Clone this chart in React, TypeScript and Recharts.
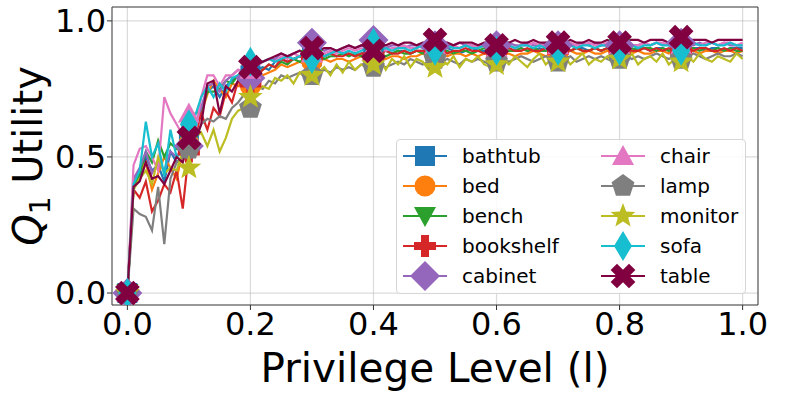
import React from 'react';
import {
  LineChart, Line, XAxis, YAxis, CartesianGrid, Legend, ReferenceArea,
} from 'recharts';

// privilege level, in hundredths
const LEVELS = [
  0, 1, 2, 3, 4, 5, 6, 7, 8, 9, 10,
  11, 12, 13, 14, 15, 16, 17, 18, 19, 20,
  21, 22, 23, 24, 25, 26, 27, 28, 29, 30,
  31, 32, 33, 34, 35, 36, 37, 38, 39, 40,
  41, 42, 43, 44, 45, 46, 47, 48, 49, 50,
  51, 52, 53, 54, 55, 56, 57, 58, 59, 60,
  61, 62, 63, 64, 65, 66, 67, 68, 69, 70,
  71, 72, 73, 74, 75, 76, 77, 78, 79, 80,
  81, 82, 83, 84, 85, 86, 87, 88, 89, 90,
  91, 92, 93, 94, 95, 96, 97, 98, 99, 100,
];

// Q1 utility per class, in percent
const bathtub = [0,
  40, 43, 50, 45, 47, 41, 52, 48, 50, 56,
  60, 68, 74, 76, 72, 76, 78, 80, 79, 80,
  82, 83, 82, 85, 86, 85, 86, 87, 86, 87,
  88, 87, 88, 87, 88, 88, 87, 88, 89, 88,
  88, 89, 88, 89, 89, 88, 89, 89, 90, 89,
  89, 90, 89, 88, 89, 90, 89, 89, 90, 89,
  89, 90, 89, 90, 89, 89, 90, 89, 90, 89,
  90, 89, 90, 90, 89, 90, 89, 90, 90, 89,
  90, 89, 90, 90, 89, 90, 90, 89, 90, 90,
  89, 90, 90, 89, 90, 90, 89, 90, 90, 90];
const bed = [0,
  42, 45, 48, 38, 44, 50, 46, 42, 52, 55,
  62, 66, 73, 78, 75, 72, 77, 76, 78, 76,
  79, 80, 81, 82, 84, 83, 84, 85, 84, 85,
  85, 86, 85, 86, 86, 85, 86, 87, 86, 86,
  87, 86, 87, 87, 86, 87, 87, 88, 87, 87,
  88, 87, 88, 88, 87, 88, 87, 88, 88, 87,
  88, 88, 87, 88, 88, 89, 88, 87, 88, 88,
  88, 89, 88, 88, 89, 88, 88, 89, 88, 88,
  89, 88, 89, 88, 88, 89, 89, 88, 89, 88,
  89, 89, 88, 89, 89, 88, 89, 89, 88, 89];
const bench = [0,
  38, 44, 52, 48, 56, 50, 55, 53, 52, 56,
  66, 67, 74, 74, 75, 78, 77, 80, 79, 78,
  81, 82, 84, 83, 85, 84, 86, 85, 86, 86,
  87, 86, 87, 87, 88, 87, 88, 87, 88, 88,
  88, 87, 88, 89, 88, 88, 89, 88, 89, 88,
  89, 89, 88, 89, 89, 88, 89, 90, 89, 89,
  90, 89, 89, 90, 89, 90, 89, 89, 90, 89,
  90, 89, 90, 89, 89, 90, 89, 90, 89, 90,
  89, 90, 89, 90, 90, 89, 90, 89, 90, 89,
  90, 90, 89, 90, 89, 90, 89, 90, 89, 89];
const bookshelf = [0,
  38, 35, 41, 30, 34, 40, 37, 45, 31, 52,
  57, 66, 60, 68, 65, 74, 70, 78, 75, 77,
  80, 82, 84, 83, 86, 85, 86, 87, 86, 87,
  86, 87, 88, 87, 87, 88, 87, 88, 88, 87,
  88, 89, 88, 88, 89, 88, 89, 89, 88, 89,
  89, 88, 89, 89, 90, 89, 89, 88, 89, 89,
  89, 90, 89, 89, 90, 89, 89, 90, 89, 89,
  90, 89, 90, 89, 89, 90, 89, 90, 89, 89,
  90, 89, 89, 90, 89, 90, 89, 90, 89, 89,
  90, 89, 90, 90, 89, 89, 90, 89, 90, 89];
const cabinet = [0,
  42, 46, 52, 44, 48, 45, 52, 50, 54, 54,
  62, 68, 76, 77, 74, 78, 80, 82, 81, 79,
  84, 85, 86, 86, 88, 87, 88, 89, 88, 92,
  90, 89, 90, 89, 90, 91, 90, 91, 90, 93,
  91, 90, 91, 91, 90, 91, 91, 90, 91, 91,
  91, 90, 91, 92, 91, 91, 90, 91, 92, 91,
  91, 92, 91, 91, 92, 91, 91, 92, 91, 91,
  92, 91, 91, 92, 91, 92, 91, 91, 92, 91,
  92, 91, 91, 92, 91, 92, 91, 92, 91, 92,
  92, 91, 92, 91, 92, 91, 92, 91, 91, 91];
const chair = [0,
  47, 53, 54, 50, 45, 72, 66, 62, 58, 66,
  58, 72, 80, 80, 76, 80, 80, 82, 81, 82,
  83, 85, 86, 85, 87, 86, 88, 87, 88, 88,
  89, 88, 89, 88, 89, 90, 89, 90, 89, 90,
  90, 89, 90, 90, 91, 90, 90, 91, 90, 91,
  90, 91, 91, 90, 91, 91, 90, 91, 91, 90,
  91, 91, 90, 91, 91, 92, 91, 91, 90, 91,
  91, 92, 91, 91, 92, 91, 91, 92, 91, 91,
  92, 91, 91, 92, 91, 92, 92, 91, 92, 91,
  92, 92, 91, 92, 92, 91, 92, 92, 91, 92];
const lamp = [0,
  31, 29, 28, 23, 39, 18, 42, 48, 50, 53,
  55, 62, 64, 63, 65, 64, 68, 70, 73, 68,
  76, 75, 78, 77, 80, 79, 80, 81, 80, 80,
  81, 82, 81, 83, 82, 83, 82, 84, 83, 83,
  84, 83, 84, 85, 84, 86, 85, 84, 85, 86,
  85, 86, 85, 84, 86, 85, 86, 85, 84, 85,
  86, 85, 86, 87, 86, 85, 86, 87, 86, 85,
  86, 87, 85, 86, 87, 86, 87, 86, 85, 86,
  87, 86, 87, 86, 87, 88, 87, 86, 87, 86,
  87, 88, 87, 86, 87, 88, 87, 87, 88, 87];
const monitor = [0,
  38, 42, 45, 40, 50, 44, 46, 45, 52, 46,
  57, 59, 54, 60, 52, 57, 64, 67, 68, 72,
  74, 76, 75, 79, 78, 80, 77, 81, 79, 80,
  81, 83, 80, 84, 81, 85, 82, 84, 83, 84,
  86, 82, 86, 84, 87, 83, 86, 85, 82, 83,
  86, 84, 87, 83, 86, 85, 87, 84, 83, 84,
  86, 84, 87, 85, 83, 86, 88, 84, 86, 85,
  87, 84, 86, 88, 84, 86, 85, 87, 84, 86,
  85, 88, 84, 86, 87, 85, 88, 84, 86, 85,
  87, 85, 88, 86, 85, 87, 86, 85, 88, 86];
const sofa = [0,
  40, 45, 63, 50, 55, 43, 60, 50, 52, 62,
  65, 72, 76, 72, 77, 74, 79, 80, 82, 85,
  84, 85, 86, 85, 86, 87, 86, 87, 88, 86,
  88, 87, 88, 89, 88, 89, 88, 89, 90, 92,
  89, 90, 89, 90, 90, 89, 90, 91, 90, 89,
  90, 91, 90, 90, 91, 90, 90, 91, 90, 89,
  90, 91, 90, 91, 91, 90, 91, 90, 91, 89,
  91, 91, 90, 91, 91, 90, 91, 91, 90, 89,
  91, 91, 90, 91, 91, 92, 91, 91, 90, 89,
  91, 92, 91, 91, 92, 91, 91, 92, 91, 91];
const table = [0,
  39, 41, 48, 42, 43, 40, 45, 50, 48, 57,
  56, 62, 77, 78, 66, 76, 74, 78, 80, 83,
  84, 85, 86, 87, 88, 87, 88, 89, 88, 90,
  89, 90, 90, 89, 90, 91, 90, 91, 91, 89,
  91, 91, 92, 91, 92, 92, 91, 92, 92, 93,
  92, 92, 91, 92, 92, 92, 91, 92, 92, 91,
  92, 92, 93, 92, 92, 93, 92, 92, 92, 92,
  92, 93, 92, 92, 93, 92, 92, 93, 92, 92,
  93, 93, 93, 92, 93, 93, 93, 92, 93, 94,
  93, 93, 93, 93, 92, 93, 93, 93, 93, 93];

const X_TICKS = [0, 0.2, 0.4, 0.6, 0.8, 1.0];
const Y_TICKS = [0, 0.5, 1.0];

const SERIES = [
  { key: 'bathtub', values: bathtub, color: '#1f77b4', shape: 'square' },
  { key: 'bed', values: bed, color: '#ff7f0e', shape: 'circle' },
  { key: 'bench', values: bench, color: '#2ca02c', shape: 'triDown' },
  { key: 'bookshelf', values: bookshelf, color: '#d62728', shape: 'plus' },
  { key: 'cabinet', values: cabinet, color: '#9467bd', shape: 'diamond' },
  { key: 'chair', values: chair, color: '#e377c2', shape: 'triUp' },
  { key: 'lamp', values: lamp, color: '#7f7f7f', shape: 'pentagon' },
  { key: 'monitor', values: monitor, color: '#bcbd22', shape: 'star' },
  { key: 'sofa', values: sofa, color: '#17becf', shape: 'thinDiamond' },
  { key: 'table', values: table, color: '#800040', shape: 'x' },
];

const data = LEVELS.map((lv, i) => {
  const row: Record<string, number> = { x: lv / 100 };
  SERIES.forEach((s) => { row[s.key] = s.values[i] / 100; });
  return row;
});

const FONT = 'DejaVu Sans, sans-serif';

const plusPoints = (cx: number, cy: number, a: number, t: number) =>
  [[-t, -a], [t, -a], [t, -t], [a, -t], [a, t], [t, t], [t, a], [-t, a], [-t, t], [-a, t], [-a, -t], [-t, -t]]
    .map(([dx, dy]) => `${cx + dx},${cy + dy}`).join(' ');

const ringPoints = (cx: number, cy: number, radii: number[], n: number) => {
  const pts: string[] = [];
  for (let k = 0; k < n; k++) {
    const ang = (-90 + (360 / n) * k) * Math.PI / 180;
    const r = radii[k % radii.length];
    pts.push(`${cx + r * Math.cos(ang)},${cy + r * Math.sin(ang)}`);
  }
  return pts.join(' ');
};

const Marker = ({ shape, cx, cy, color }: { shape: string; cx: number; cy: number; color: string }) => {
  switch (shape) {
    case 'square':
      return <rect x={cx - 10} y={cy - 10} width={20} height={20} fill={color} />;
    case 'circle':
      return <circle cx={cx} cy={cy} r={10.5} fill={color} />;
    case 'triDown':
      return <polygon points={`${cx},${cy + 11} ${cx - 11},${cy - 9} ${cx + 11},${cy - 9}`} fill={color} />;
    case 'triUp':
      return <polygon points={`${cx},${cy - 11} ${cx - 11},${cy + 9} ${cx + 11},${cy + 9}`} fill={color} />;
    case 'plus':
      return <polygon points={plusPoints(cx, cy, 11, 4)} fill={color} />;
    case 'diamond':
      return <polygon points={`${cx},${cy - 15} ${cx + 15},${cy} ${cx},${cy + 15} ${cx - 15},${cy}`} fill={color} />;
    case 'thinDiamond':
      return <polygon points={`${cx},${cy - 15} ${cx + 9},${cy} ${cx},${cy + 15} ${cx - 9},${cy}`} fill={color} />;
    case 'pentagon':
      return <polygon points={ringPoints(cx, cy, [12], 5)} fill={color} />;
    case 'star':
      return <polygon points={ringPoints(cx, cy, [13, 5.5], 10)} fill={color} />;
    case 'x':
      return <polygon points={plusPoints(cx, cy, 13, 4.5)} fill={color} transform={`rotate(45 ${cx} ${cy})`} />;
    default:
      return null;
  }
};

// markers on every 10th point, none at the last one
const makeDot = (shape: string, color: string) => (props: any) => {
  const { cx, cy, index } = props;
  if (index % 10 !== 0 || index >= 100 || cx == null || cy == null) return <g key={`d-${index}`} />;
  return (
    <g key={`d-${index}`}>
      <Marker shape={shape} cx={cx} cy={cy} color={color} />
    </g>
  );
};

const renderLegend = () => (
  <div
    style={{
      position: 'relative', width: 350, height: 155, boxSizing: 'border-box',
      border: '1px solid #d6d6d6', borderRadius: 4, background: 'rgba(255,255,255,0.85)',
      fontFamily: FONT, fontSize: 20, color: '#000',
    }}
  >
    {SERIES.map((s, i) => {
      const col = Math.floor(i / 5);
      const row = i % 5;
      const left = col === 0 ? 6 : 204;
      const top = 16 + row * 30 - 15;
      return (
        <div key={s.key} style={{ position: 'absolute', left, top, height: 30, display: 'flex', alignItems: 'center' }}>
          <svg width={44} height={30} style={{ display: 'block' }}>
            <line x1={0} y1={15} x2={44} y2={15} stroke={s.color} strokeWidth={2.2} />
            <Marker shape={s.shape} cx={22} cy={15} color={s.color} />
          </svg>
          <span style={{ marginLeft: 15, lineHeight: '30px', whiteSpace: 'nowrap' }}>{s.key}</span>
        </div>
      );
    })}
  </div>
);

const YLabel = ({ viewBox }: any) => {
  const x = viewBox.x + 42;
  const y = viewBox.y + viewBox.height / 2;
  return (
    <text x={x} y={y} transform={`rotate(-90 ${x} ${y})`} textAnchor="middle" fontFamily={FONT} fontSize={40} fill="#000">
      <tspan fontStyle="italic">Q</tspan>
      <tspan fontSize={28} dy={8}>1</tspan>
      <tspan dy={-8}> Utility</tspan>
    </text>
  );
};

const XLabel = ({ viewBox }: any) => (
  <text x={viewBox.x + viewBox.width / 2} y={viewBox.y + 77} textAnchor="middle" fontFamily={FONT} fontSize={40.5} fill="#000">
    Privilege Level (l)
  </text>
);

export default function App() {
  return (
    <div style={{ position: 'absolute', left: 0, top: 0, width: 789, height: 395, background: '#fff' }}>
      <LineChart width={789} height={395} data={data} margin={{ top: 7, right: 31, bottom: 0, left: 0 }}>
        <CartesianGrid stroke="#b0b0b0" strokeOpacity={0.45} strokeWidth={1.2} />
        <XAxis
          dataKey="x"
          type="number"
          domain={[-0.025, 1.025]}
          ticks={X_TICKS}
          allowDataOverflow
          height={90}
          axisLine={false}
          tickSize={5}
          tickMargin={2}
          tickLine={{ stroke: '#333' }}
          tick={{ fontSize: 32, fontFamily: FONT, fill: '#000' }}
          tickFormatter={(v: number) => v.toFixed(1)}
          label={<XLabel />}
        />
        <YAxis
          type="number"
          domain={[-0.044, 1.051]}
          ticks={Y_TICKS}
          allowDataOverflow
          width={112}
          axisLine={false}
          tickSize={5}
          tickMargin={1}
          tickLine={{ stroke: '#333' }}
          tick={{ fontSize: 32, fontFamily: FONT, fill: '#000' }}
          tickFormatter={(v: number) => v.toFixed(1)}
          label={<YLabel />}
        />
        <ReferenceArea x1={-0.025} x2={1.025} y1={-0.044} y2={1.051} fill="none" stroke="#444" strokeWidth={1} ifOverflow="visible" />
        {SERIES.map((s) => (
          <Line
            key={s.key}
            type="linear"
            dataKey={s.key}
            stroke={s.color}
            strokeWidth={2.2}
            dot={makeDot(s.shape, s.color)}
            activeDot={false}
            isAnimationActive={false}
          />
        ))}
        <Legend
          layout="horizontal"
          verticalAlign="middle"
          align="center"
          content={renderLegend}
          wrapperStyle={{ position: 'absolute', left: 396, top: 139, width: 352, height: 157 }}
        />
      </LineChart>
    </div>
  );
}
